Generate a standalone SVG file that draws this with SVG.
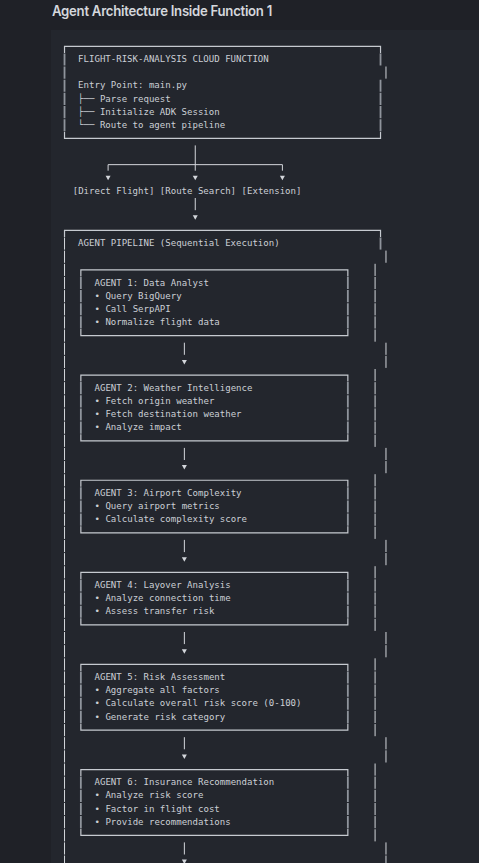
<svg xmlns="http://www.w3.org/2000/svg" width="479" height="863" viewBox="0 0 479 863">
<style>
.t{font-family:"DejaVu Sans Mono","Liberation Mono",monospace;font-size:9.05px;fill:#cbcfd5}
.h{fill:none;stroke:#c6cad0;stroke-width:1.2}
.g{fill:none;stroke:#8f949c;stroke-width:1.8;stroke-dasharray:12.15 1}
.w{fill:none;stroke:#d3d6db;stroke-width:1;stroke-dasharray:12.15 1}
.c{fill:none;stroke:#d3d6db;stroke-width:1}
.a{fill:#d3d6db}
</style>
<rect x="0" y="0" width="479" height="863" fill="#1f2127"/>
<rect x="51" y="30" width="428" height="833" fill="#23262d"/>
<text x="52" y="16" font-family="Inter,'Liberation Sans',sans-serif" font-weight="600" font-size="14" letter-spacing="-0.3" fill="#d4d7dc" textLength="220" lengthAdjust="spacingAndGlyphs">Agent Architecture Inside Function 1</text>

<g id="node-cloud-function">
<path class="h" d="M64.52,52.9 V46.3 H380.53 V52.9 M64.52,131.8 V138.35 H380.53 V131.8"/>
<line class="g" x1="64.52" y1="53.4" x2="64.52" y2="131.3"/>
<line class="g" x1="380.53" y1="53.4" x2="380.53" y2="65.5"/>
<line class="w" x1="385.98" y1="66.5" x2="385.98" y2="78.7"/>
<line class="g" x1="380.53" y1="79.7" x2="380.53" y2="131.3"/>
<text class="t" x="78.1" y="62.05">FLIGHT-RISK-ANALYSIS CLOUD FUNCTION</text>
<text class="t" x="78.1" y="88.35">Entry Point: main.py</text>
<text class="t" x="78.1" y="101.5">├── Parse request</text>
<text class="t" x="78.1" y="114.65">├── Initialize ADK Session</text>
<text class="t" x="78.1" y="127.8">└── Route to agent pipeline</text>
</g>

<g id="node-direct-flight"><text class="t" x="72.7" y="193.55">[Direct Flight]</text></g>
<g id="node-route-search"><text class="t" x="159.8" y="193.55">[Route Search]</text></g>
<g id="node-extension"><text class="t" x="241.55" y="193.55">[Extension]</text></g>

<g id="node-pipeline">
<path class="h" d="M64.52,237 V230.4 H380.53 V237"/>
<line class="w" x1="64.52" y1="237.5" x2="64.52" y2="870"/>
<line class="g" x1="380.53" y1="237.5" x2="380.53" y2="249.6"/>
<line class="w" x1="385.98" y1="250.6" x2="385.98" y2="262.8"/>
<line class="w" x1="375.09" y1="263.8" x2="375.09" y2="341.7"/>
<line class="w" x1="385.98" y1="342.7" x2="385.98" y2="367.9"/>
<line class="w" x1="375.09" y1="369" x2="375.09" y2="446.9"/>
<line class="w" x1="385.98" y1="447.9" x2="385.98" y2="473.2"/>
<line class="w" x1="375.09" y1="474.2" x2="375.09" y2="538.9"/>
<line class="w" x1="385.98" y1="539.9" x2="385.98" y2="565.2"/>
<line class="w" x1="375.09" y1="566.2" x2="375.09" y2="630.9"/>
<line class="w" x1="385.98" y1="632" x2="385.98" y2="657.3"/>
<line class="w" x1="375.09" y1="658.3" x2="375.09" y2="736.2"/>
<line class="w" x1="385.98" y1="737.2" x2="385.98" y2="762.5"/>
<line class="w" x1="375.09" y1="763.5" x2="375.09" y2="841.4"/>
<line class="w" x1="385.98" y1="842.4" x2="385.98" y2="870"/>
<text class="t" x="78.1" y="246.15">AGENT PIPELINE (Sequential Execution)</text>
</g>

<g id="node-agent1">
<path class="h" d="M80.86,276.4 V269.85 H347.85 V276.4 M80.86,329 V335.6 H347.85 V329"/>
<line class="g" x1="80.86" y1="276.9" x2="80.86" y2="328.5"/>
<line class="g" x1="347.85" y1="276.9" x2="347.85" y2="328.5"/>
<text class="t" x="94.5" y="285.6">AGENT 1: Data Analyst</text>
<text class="t" x="94.5" y="298.75">• Query BigQuery</text>
<text class="t" x="94.5" y="311.9">• Call SerpAPI</text>
<text class="t" x="94.5" y="325.05">• Normalize flight data</text>
</g>

<g id="node-agent2">
<path class="h" d="M80.86,381.6 V375.05 H347.85 V381.6 M80.86,434.2 V440.8 H347.85 V434.2"/>
<line class="g" x1="80.86" y1="382.1" x2="80.86" y2="433.7"/>
<line class="g" x1="347.85" y1="382.1" x2="347.85" y2="433.7"/>
<text class="t" x="94.5" y="390.8">AGENT 2: Weather Intelligence</text>
<text class="t" x="94.5" y="403.95">• Fetch origin weather</text>
<text class="t" x="94.5" y="417.1">• Fetch destination weather</text>
<text class="t" x="94.5" y="430.25">• Analyze impact</text>
</g>

<g id="node-agent3">
<path class="h" d="M80.86,486.8 V480.25 H347.85 V486.8 M80.86,526.3 V532.85 H347.85 V526.3"/>
<line class="g" x1="80.86" y1="487.3" x2="80.86" y2="525.8"/>
<line class="g" x1="347.85" y1="487.3" x2="347.85" y2="525.8"/>
<text class="t" x="94.5" y="496">AGENT 3: Airport Complexity</text>
<text class="t" x="94.5" y="509.15">• Query airport metrics</text>
<text class="t" x="94.5" y="522.3">• Calculate complexity score</text>
</g>

<g id="node-agent4">
<path class="h" d="M80.86,578.9 V572.3 H347.85 V578.9 M80.86,618.3 V624.9 H347.85 V618.3"/>
<line class="g" x1="80.86" y1="579.4" x2="80.86" y2="617.8"/>
<line class="g" x1="347.85" y1="579.4" x2="347.85" y2="617.8"/>
<text class="t" x="94.5" y="588.05">AGENT 4: Layover Analysis</text>
<text class="t" x="94.5" y="601.2">• Analyze connection time</text>
<text class="t" x="94.5" y="614.35">• Assess transfer risk</text>
</g>

<g id="node-agent5">
<path class="h" d="M80.86,670.9 V664.35 H347.85 V670.9 M80.86,723.5 V730.1 H347.85 V723.5"/>
<line class="g" x1="80.86" y1="671.4" x2="80.86" y2="723"/>
<line class="g" x1="347.85" y1="671.4" x2="347.85" y2="723"/>
<text class="t" x="94.5" y="680.1">AGENT 5: Risk Assessment</text>
<text class="t" x="94.5" y="693.25">• Aggregate all factors</text>
<text class="t" x="94.5" y="706.4">• Calculate overall risk score (0-100)</text>
<text class="t" x="94.5" y="719.55">• Generate risk category</text>
</g>

<g id="node-agent6">
<path class="h" d="M80.86,776.1 V769.55 H347.85 V776.1 M80.86,828.7 V835.3 H347.85 V828.7"/>
<line class="g" x1="80.86" y1="776.6" x2="80.86" y2="828.2"/>
<line class="g" x1="347.85" y1="776.6" x2="347.85" y2="828.2"/>
<text class="t" x="94.5" y="785.3">AGENT 6: Insurance Recommendation</text>
<text class="t" x="94.5" y="798.45">• Analyze risk score</text>
<text class="t" x="94.5" y="811.6">• Factor in flight cost</text>
<text class="t" x="94.5" y="824.75">• Provide recommendations</text>
</g>

<g id="connectors">
<path class="c" d="M195.25,145.4 V170.7 M108.1,170.7 V164.65 H282.4 V170.7"/>
<polygon class="a" points="105.6,175.8 110.6,175.8 108.1,180.3"/>
<polygon class="a" points="192.75,175.8 197.75,175.8 195.25,180.3"/>
<polygon class="a" points="279.9,175.8 284.9,175.8 282.4,180.3"/>
<line class="c" x1="195.25" y1="198" x2="195.25" y2="210.2"/>
<polygon class="a" points="192.75,215.25 197.75,215.25 195.25,219.75"/>
<line class="c" x1="184.36" y1="342.7" x2="184.36" y2="354.8"/>
<polygon class="a" points="181.86,359.9 186.86,359.9 184.36,364.4"/>
<line class="c" x1="184.36" y1="447.9" x2="184.36" y2="460"/>
<polygon class="a" points="181.86,465.1 186.86,465.1 184.36,469.6"/>
<line class="c" x1="184.36" y1="539.9" x2="184.36" y2="552.1"/>
<polygon class="a" points="181.86,557.15 186.86,557.15 184.36,561.65"/>
<line class="c" x1="184.36" y1="632" x2="184.36" y2="644.1"/>
<polygon class="a" points="181.86,649.2 186.86,649.2 184.36,653.7"/>
<line class="c" x1="184.36" y1="737.2" x2="184.36" y2="749.3"/>
<polygon class="a" points="181.86,754.4 186.86,754.4 184.36,758.9"/>
<line class="c" x1="184.36" y1="842.4" x2="184.36" y2="854.5"/>
<polygon class="a" points="181.86,859.6 186.86,859.6 184.36,864.1"/>
</g>
</svg>
